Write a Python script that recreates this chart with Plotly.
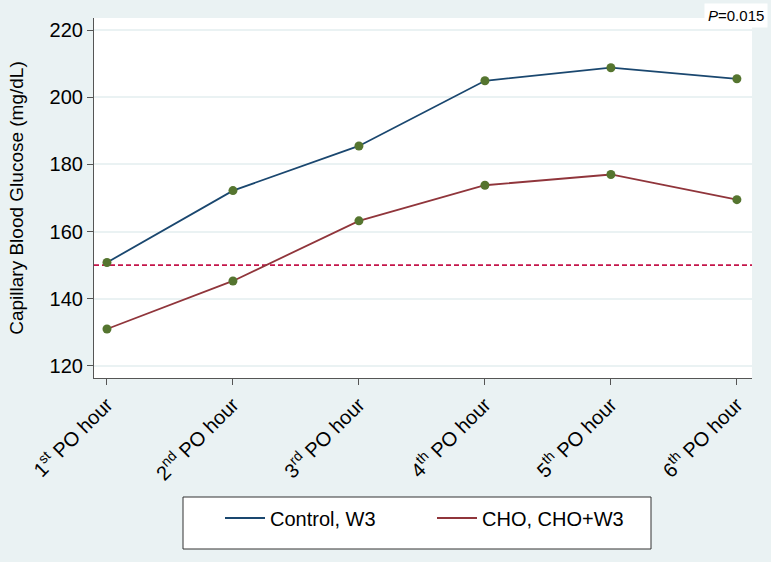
import plotly.graph_objects as go

hours = ['1<sup>st</sup> PO hour', '2<sup>nd</sup> PO hour', '3<sup>rd</sup> PO hour',
         '4<sup>th</sup> PO hour', '5<sup>th</sup> PO hour', '6<sup>th</sup> PO hour']
control_w3 = [150.8, 172.2, 185.5, 204.9, 208.8, 205.5]
cho_w3 = [131.0, 145.3, 163.2, 173.8, 177.0, 169.5]
threshold = 150
p_text = '<i>P</i>=0.015'

x_pos = list(range(len(hours)))
bg = '#EAF2F3'
font = 'Liberation Sans, Arial, sans-serif'
marker_color = '#55752F'

fig = go.Figure()

# lines (shown in legend)
fig.add_trace(
    go.Scatter(
        x=x_pos, y=control_w3, mode='lines',
        line=dict(color='#1A476F', width=1.8),
        name='Control, W3'
    )
)
fig.add_trace(
    go.Scatter(
        x=x_pos, y=cho_w3, mode='lines',
        line=dict(color='#90353B', width=1.8),
        name='CHO, CHO+W3'
    )
)

# markers on top, kept out of the legend
for ys in (control_w3, cho_w3):
    fig.add_trace(
        go.Scatter(
            x=x_pos, y=ys, mode='markers',
            marker=dict(size=9, color=marker_color),
            showlegend=False, hoverinfo='skip'
        )
    )

fig.add_hline(y=threshold, line_width=1.6, line_dash='5px,3px', line_color='#C4154A', layer='below')

# legend frame
fig.add_shape(type='rect', xref='paper', yref='paper',
              x0=(183 - 94) / 658, x1=(651 - 94) / 658,
              y0=(378 - 549) / 360, y1=(378 - 497) / 360,
              line=dict(color='#333333', width=1), fillcolor='white', layer='below')

fig.add_annotation(
    text=p_text, xref='paper', yref='paper', x=(768 - 94) / 658, y=(378 - 3) / 360,
    xanchor='right', yanchor='top', showarrow=False,
    font=dict(size=15, color='black', family=font),
    bgcolor='white', borderpad=3
)

fig.update_layout(
    width=771,
    height=562,
    paper_bgcolor=bg,
    plot_bgcolor='white',
    font=dict(family=font, color='black'),
    margin=dict(l=94, r=19, t=18, b=184),
    showlegend=True,
    legend=dict(
        orientation='h',
        xanchor='left',
        x=(220 - 94) / 658,
        yanchor='middle',
        y=(378 - 518) / 360,
        bgcolor='rgba(0,0,0,0)',
        font=dict(size=20),
        entrywidth=157,
        itemwidth=40
    ),
    xaxis=dict(
        range=[-0.103, 5.12],
        tickmode='array',
        tickvals=x_pos,
        ticktext=hours,
        tickangle=-45,
        tickfont=dict(size=20),
        ticks='outside',
        ticklen=6,
        tickcolor='#555555',
        showgrid=False,
        showline=True,
        linecolor='#555555',
        linewidth=1.2,
        zeroline=False
    ),
    yaxis=dict(
        range=[116.4, 223.6],
        tickvals=[120, 140, 160, 180, 200, 220],
        tickfont=dict(size=20),
        ticks='outside',
        ticklen=6,
        tickcolor='#555555',
        showgrid=True,
        gridcolor=bg,
        gridwidth=1.5,
        showline=True,
        linecolor='#555555',
        linewidth=1.2,
        zeroline=False,
        title=dict(text='Capillary Blood Glucose (mg/dL)', font=dict(size=19), standoff=20)
    )
)

fig.write_html('out.html', config={'displayModeBar': False},
               post_script="document.body.style.margin='0';")
